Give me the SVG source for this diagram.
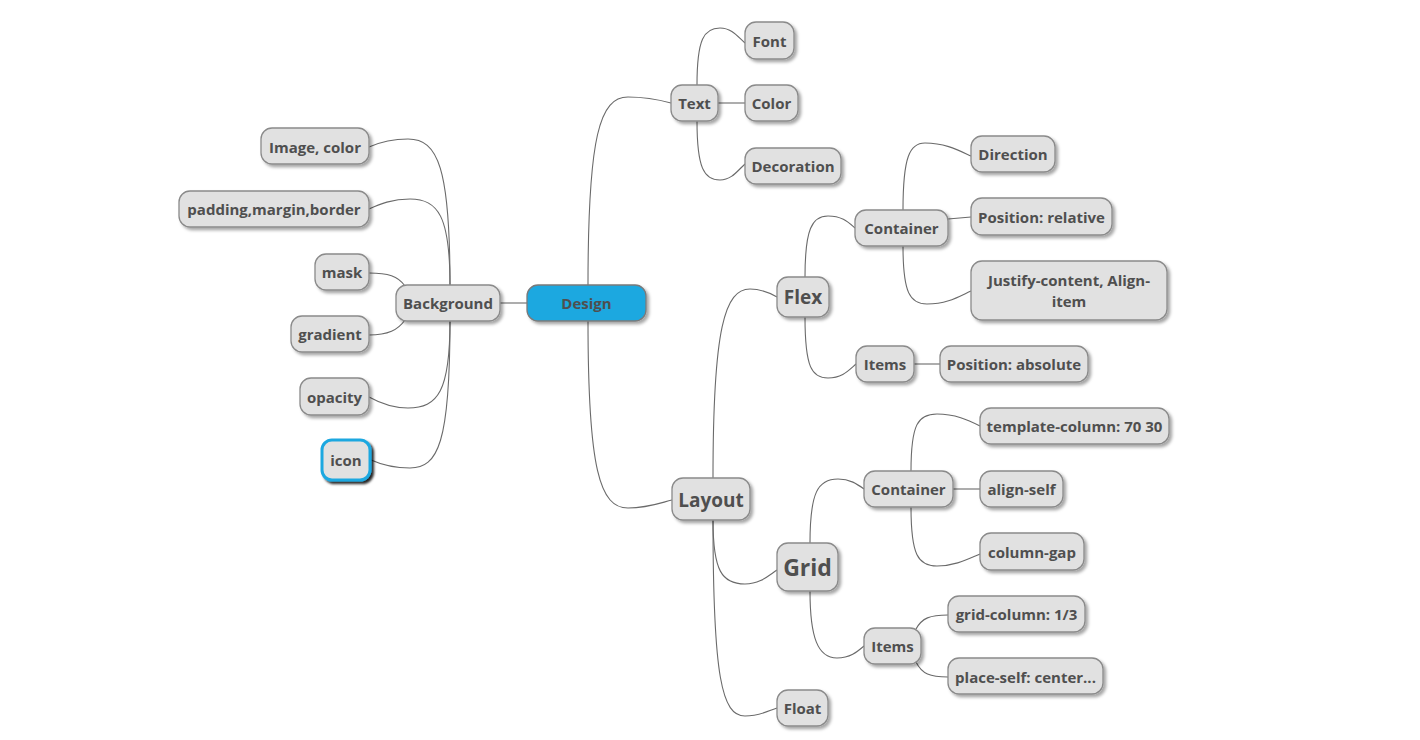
<svg xmlns="http://www.w3.org/2000/svg" width="1420" height="740" viewBox="0 0 1420 740">
  <defs>
    <filter id="shadow" x="-20%" y="-30%" width="150%" height="180%">
      <feDropShadow dx="2.5" dy="2.5" stdDeviation="1.5" flood-color="#000" flood-opacity="0.35"/>
    </filter>
    <filter id="shadowDark" x="-20%" y="-30%" width="150%" height="180%">
      <feDropShadow dx="2.5" dy="2.5" stdDeviation="1" flood-color="#000" flood-opacity="0.85"/>
    </filter>
  </defs>
  <style>
    .box { fill: #e1e1e1; stroke: #8a8a8a; stroke-width: 1.3; filter: url(#shadow); }
    .root { fill: #1ea8e0; stroke: #7a7a7a; stroke-width: 1.3; filter: url(#shadow); }
    .sel { fill: #e1e1e1; stroke: #1ea8e0; stroke-width: 3; filter: url(#shadowDark); }
    text { font-family: "Open Sans", "Noto Sans", "DejaVu Sans", sans-serif; font-weight: bold; fill: #4f4f4f; text-anchor: middle; font-size: 15px; }
    .l2 { font-size: 19px; }
    .l3 { font-size: 23px; }
    .edges path { fill: none; stroke: #6a6a6a; stroke-width: 1.1; }
  </style>
  <rect width="1420" height="740" fill="#ffffff"/>

  <g class="edges" id="connectors">
    <!-- root -->
    <path d="M500 303 L527 303"/>
    <path d="M588 285 C588 135 600 97 628 97 C648 97 660 100 671 103"/>
    <path d="M588 321 C588 470 600 508 628 508 C648 508 660 503 672 500"/>
    <!-- Background branch -->
    <path d="M450 285 C450 168 438 139 408 139 C390 139 378 143 369 147"/>
    <path d="M450 285 C450 216 438 199 410 199 C392 199 380 204 369 209"/>
    <path d="M405 286 C398 276 388 273 369 273"/>
    <path d="M405 320 C398 330 388 335 369 335"/>
    <path d="M450 321 C450 391 438 408 408 408 C390 408 378 402 369 397"/>
    <path d="M450 321 C450 443 438 468 410 468 C392 468 380 464 371 460"/>
    <!-- Text branch -->
    <path d="M697 85 C697 39 704 28 720 28 C732 28 738 37 745 43"/>
    <path d="M718 103 L745 103"/>
    <path d="M697 121 C697 168 704 180 720 180 C732 180 738 170 745 164"/>
    <!-- Layout branch -->
    <path d="M713 478 C713 327 725 289 750 289 C762 289 770 293 777 297"/>
    <path d="M713 520 C713 571 722 584 745 584 C760 584 768 576 777 570"/>
    <path d="M713 520 C713 678 722 716 745 716 C760 716 768 711 777 708"/>
    <!-- Flex -->
    <path d="M805 277 C805 229 812 216 828 216 C842 216 848 222 855 228"/>
    <path d="M805 317 C805 368 812 378 828 378 C842 378 848 371 856 364"/>
    <path d="M903 210 C903 156 910 143 925 143 C945 143 958 150 971 156"/>
    <path d="M948 219 L971 217"/>
    <path d="M903 246 C903 293 910 304 927 304 C947 304 958 297 971 291"/>
    <path d="M914 364 L940 364"/>
    <!-- Grid -->
    <path d="M810 543 C810 492 818 479 838 479 C850 479 857 484 864 489"/>
    <path d="M810 591 C810 638 818 658 837 658 C850 658 857 652 864 646"/>
    <path d="M911 471 C911 424 918 414 937 414 C955 414 968 420 980 426"/>
    <path d="M953 489 L980 489"/>
    <path d="M911 507 C911 555 918 566 937 566 C955 566 968 559 980 554"/>
    <path d="M916 629 C922 618 930 615 948 615"/>
    <path d="M916 662 C922 674 930 677 948 677"/>
  </g>

  <g id="design"><rect class="root" x="527" y="285" width="119" height="36" rx="11"/><text x="586.5" y="309">Design</text></g>

  <g id="background"><rect class="box" x="396" y="285" width="104" height="36" rx="11"/><text x="448" y="309">Background</text></g>
  <g id="image-color"><rect class="box" x="261" y="128" width="108" height="36" rx="11"/><text x="315" y="153">Image, color</text></g>
  <g id="padding-margin-border"><rect class="box" x="179" y="191" width="190" height="36" rx="11"/><text x="274" y="215">padding,margin,border</text></g>
  <g id="mask"><rect class="box" x="315" y="254" width="54" height="36" rx="11"/><text x="342" y="278">mask</text></g>
  <g id="gradient"><rect class="box" x="291" y="316" width="78" height="36" rx="11"/><text x="330" y="340">gradient</text></g>
  <g id="opacity"><rect class="box" x="300" y="378" width="69" height="37" rx="11"/><text x="334.5" y="403">opacity</text></g>
  <g id="icon"><rect class="sel" x="322" y="440" width="48" height="40" rx="10"/><text x="346" y="466">icon</text></g>

  <g id="text"><rect class="box" x="671" y="85" width="47" height="36" rx="11"/><text x="694.5" y="109">Text</text></g>
  <g id="font"><rect class="box" x="745" y="22" width="49" height="37" rx="11"/><text x="769.5" y="47">Font</text></g>
  <g id="color"><rect class="box" x="745" y="85" width="53" height="36" rx="11"/><text x="771.5" y="109">Color</text></g>
  <g id="decoration"><rect class="box" x="745" y="148" width="96" height="36" rx="11"/><text x="793" y="172">Decoration</text></g>

  <g id="layout"><rect class="box" x="672" y="478" width="78" height="42" rx="11"/><text class="l2" x="711" y="507">Layout</text></g>

  <g id="flex"><rect class="box" x="777" y="277" width="52" height="40" rx="11"/><text class="l2" x="803" y="304">Flex</text></g>
  <g id="flex-container"><rect class="box" x="855" y="210" width="93" height="36" rx="11"/><text x="901.5" y="234">Container</text></g>
  <g id="direction"><rect class="box" x="971" y="136" width="84" height="36" rx="11"/><text x="1013" y="160">Direction</text></g>
  <g id="position-relative"><rect class="box" x="971" y="198" width="141" height="37" rx="11"/><text x="1041.5" y="223">Position: relative</text></g>
  <g id="justify-align"><rect class="box" x="971" y="261" width="196" height="59" rx="11"/><text x="1069" y="286">Justify-content, Align-</text><text x="1069" y="307">item</text></g>
  <g id="flex-items"><rect class="box" x="856" y="346" width="58" height="36" rx="11"/><text x="885" y="370">Items</text></g>
  <g id="position-absolute"><rect class="box" x="940" y="346" width="148" height="36" rx="11"/><text x="1014" y="370">Position: absolute</text></g>

  <g id="grid"><rect class="box" x="777" y="543" width="61" height="48" rx="11"/><text class="l3" x="807.5" y="576">Grid</text></g>
  <g id="grid-container"><rect class="box" x="864" y="471" width="89" height="36" rx="11"/><text x="908.5" y="495">Container</text></g>
  <g id="template-column"><rect class="box" x="980" y="408" width="189" height="36" rx="11"/><text x="1074.5" y="432">template-column: 70 30</text></g>
  <g id="align-self"><rect class="box" x="980" y="471" width="83" height="36" rx="11"/><text x="1021.5" y="495">align-self</text></g>
  <g id="column-gap"><rect class="box" x="980" y="533" width="104" height="37" rx="11"/><text x="1032" y="558">column-gap</text></g>
  <g id="grid-items"><rect class="box" x="864" y="628" width="57" height="36" rx="11"/><text x="892.5" y="652">Items</text></g>
  <g id="grid-column"><rect class="box" x="948" y="596" width="137" height="36" rx="11"/><text x="1016.5" y="620">grid-column: 1/3</text></g>
  <g id="place-self"><rect class="box" x="948" y="658" width="155" height="36" rx="11"/><text x="1025.5" y="683">place-self: center...</text></g>

  <g id="float"><rect class="box" x="777" y="690" width="51" height="36" rx="11"/><text x="802.5" y="714">Float</text></g>
</svg>
